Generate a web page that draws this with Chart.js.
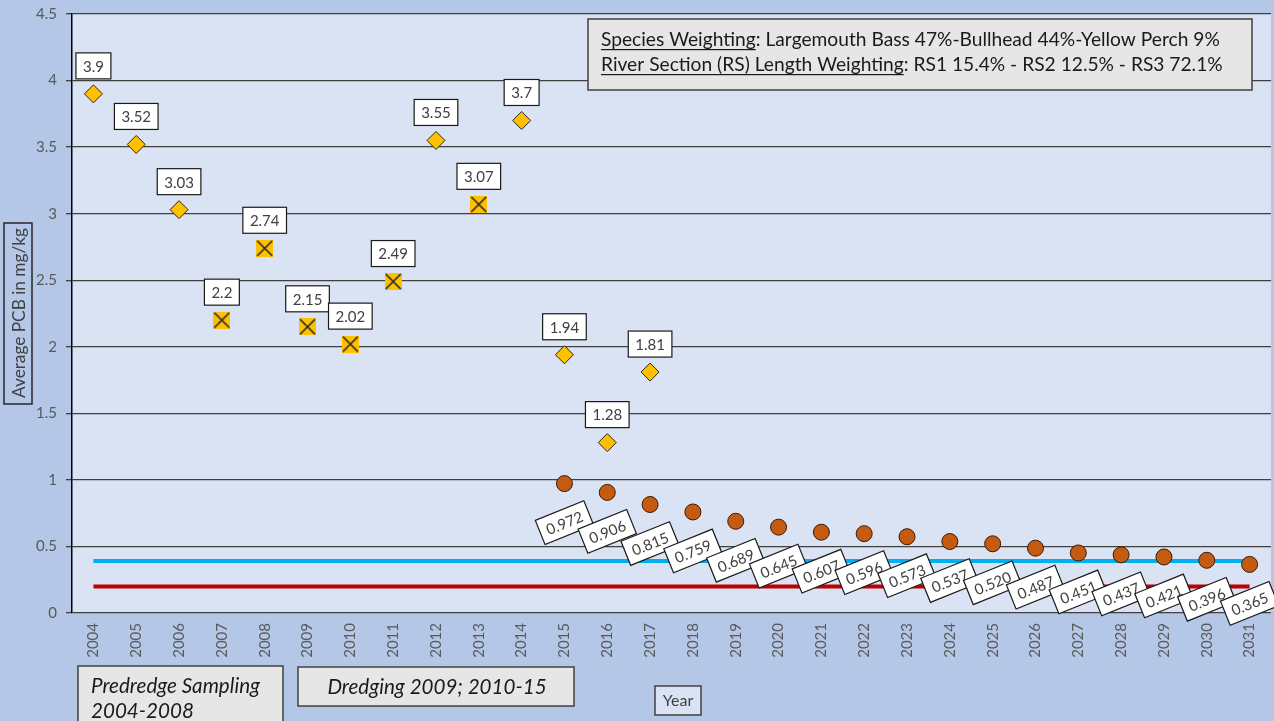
<!DOCTYPE html>
<html><head><meta charset="utf-8">
<script src="https://cdn.jsdelivr.net/npm/chart.js@4"></script>
<style>html,body{margin:0;padding:0;background:#b4c7e7;overflow:hidden}</style>
</head>
<body>
<canvas id="c" width="1274" height="721" style="display:block"></canvas>
<script>
// ---- data ----
const years = ['2004','2005','2006','2007','2008','2009','2010','2011','2012','2013','2014','2015','2016','2017',
  '2018','2019','2020','2021','2022','2023','2024','2025','2026','2027','2028','2029','2030','2031'];
const measuredYears = ['2004','2005','2006','2012','2014','2015','2016','2017'];
const measuredValues = [3.9, 3.52, 3.03, 3.55, 3.7, 1.94, 1.28, 1.81];
const dredgeYears = ['2007','2008','2009','2010','2011','2013'];
const dredgeValues = [2.2, 2.74, 2.15, 2.02, 2.49, 3.07];
const projYears = ['2015','2016','2017','2018','2019','2020','2021','2022','2023','2024','2025','2026','2027','2028','2029','2030','2031'];
const projValues = [0.972, 0.906, 0.815, 0.759, 0.689, 0.645, 0.607, 0.596, 0.573, 0.537, 0.520, 0.487, 0.451, 0.437, 0.421, 0.396, 0.365];
const refYears = ['2004','2031'];
const blueLevel = [0.39, 0.39];
const redLevel = [0.2, 0.2];
const yTicks = { min: 0, max: 4.5, step: 0.5 };

const pair = (xs, ys) => xs.map((x, i) => ({ x: x, y: ys[i] }));

// ---- styles ----
const FONT = 'Lato';
const GOLD = '#ffc000';
const RUST = '#c55a11';

// cross-in-square marker
const crossImg = document.createElement('canvas');
crossImg.width = 17; crossImg.height = 17;
(function () {
  const g = crossImg.getContext('2d');
  g.fillStyle = GOLD; g.fillRect(0, 0, 17, 17);
  g.strokeStyle = '#262626'; g.lineWidth = 1.6;
  g.beginPath(); g.moveTo(1, 1); g.lineTo(16, 16); g.moveTo(16, 1); g.lineTo(1, 16); g.stroke();
})();

const bgPlugin = {
  id: 'bg',
  beforeDraw(chart) {
    const { ctx, chartArea: a } = chart;
    ctx.save();
    ctx.fillStyle = '#b4c7e7';
    ctx.fillRect(0, 0, chart.width, chart.height);
    ctx.fillStyle = '#dae3f3';
    ctx.fillRect(a.left, a.top, a.right - a.left, a.bottom - a.top);
    ctx.restore();
  }
};

function labelBox(ctx, text, cx, cy, angle) {
  ctx.save();
  ctx.translate(cx, cy);
  ctx.rotate(angle);
  ctx.font = '15px ' + FONT;
  const w = ctx.measureText(text).width + 14;
  const h = 26;
  ctx.fillStyle = '#ffffff';
  ctx.fillRect(-w / 2, -h / 2, w, h);
  ctx.strokeStyle = '#1a1a1a';
  ctx.lineWidth = 1.2;
  ctx.strokeRect(-w / 2, -h / 2, w, h);
  ctx.fillStyle = '#404040';
  ctx.textAlign = 'center';
  ctx.textBaseline = 'middle';
  ctx.fillText(text, 0, 1);
  ctx.restore();
}

const labelPlugin = {
  id: 'labels',
  afterDatasetsDraw(chart) {
    const ctx = chart.ctx;
    const items = [];
    [0, 1].forEach(di => {
      const meta = chart.getDatasetMeta(di);
      const ds = chart.data.datasets[di];
      meta.data.forEach((el, i) => items.push({ x: el.x, y: el.y - 28, t: String(ds.data[i].y), a: 0 }));
    });
    items.sort((p, q) => p.x - q.x).forEach(it => labelBox(ctx, it.t, it.x, it.y, it.a));
    const meta = chart.getDatasetMeta(2);
    const ds = chart.data.datasets[2];
    meta.data.forEach((el, i) => labelBox(ctx, ds.data[i].y.toFixed(3), el.x, el.y + 39, -22 * Math.PI / 180));
  }
};

function fitFont(ctx, text, style, target) {
  ctx.font = style + ' 20px ' + FONT;
  const w = ctx.measureText(text).width;
  return 20 * target / w;
}

function richLine(ctx, parts, x, y, size) {
  ctx.font = size.toFixed(2) + 'px ' + FONT;
  ctx.textBaseline = 'alphabetic';
  ctx.textAlign = 'left';
  parts.forEach(p => {
    const w = ctx.measureText(p.t).width;
    ctx.fillText(p.t, x, y);
    if (p.u) { ctx.fillRect(x, y + 3, w, 1.2); }
    x += w;
  });
}

const annoPlugin = {
  id: 'anno',
  afterDraw(chart) {
    const ctx = chart.ctx;
    ctx.save();
    // weighting box
    ctx.fillStyle = '#e7e6e6';
    ctx.fillRect(588, 19, 664, 71);
    ctx.strokeStyle = '#404040'; ctx.lineWidth = 1.5;
    ctx.strokeRect(588, 19, 664, 71);
    const l1 = [{ t: 'Species Weighting', u: true }, { t: ': Largemouth Bass 47%-Bullhead 44%-Yellow Perch 9%' }];
    const l2 = [{ t: 'River Section (RS) Length Weighting', u: true }, { t: ': RS1 15.4% - RS2 12.5% - RS3 72.1%' }];
    const s1 = fitFont(ctx, l1.map(p => p.t).join(''), '', 619);
    ctx.fillStyle = '#1a1a1a';
    richLine(ctx, l1, 601, 46, s1);
    richLine(ctx, l2, 601, 71, s1);

    // y title box
    ctx.strokeStyle = '#262626'; ctx.lineWidth = 1.5;
    ctx.strokeRect(4, 223, 28, 181);
    ctx.save();
    ctx.translate(19, 313);
    ctx.rotate(-Math.PI / 2);
    const st = fitFont(ctx, 'Average PCB in mg/kg', '', 170);
    ctx.font = st.toFixed(2) + 'px ' + FONT;
    ctx.fillStyle = '#404040';
    ctx.textAlign = 'center'; ctx.textBaseline = 'middle';
    ctx.fillText('Average PCB in mg/kg', 0, 0);
    ctx.restore();

    // bottom boxes
    ctx.fillStyle = '#e7e6e6';
    ctx.fillRect(78, 666, 205, 60);
    ctx.strokeStyle = '#404040'; ctx.lineWidth = 1.5;
    ctx.strokeRect(78, 666, 205, 60);
    ctx.fillStyle = '#e7e6e6';
    ctx.fillRect(298, 667, 276, 39);
    ctx.strokeRect(298, 667, 276, 39);
    const si = fitFont(ctx, 'Predredge Sampling', 'italic', 169);
    ctx.font = 'italic ' + si.toFixed(2) + 'px ' + FONT;
    ctx.fillStyle = '#1a1a1a';
    ctx.textAlign = 'left'; ctx.textBaseline = 'middle';
    ctx.fillText('Predredge Sampling', 91, 686);
    ctx.fillText('2004-2008', 91, 711);
    ctx.textAlign = 'center';
    ctx.fillText('Dredging 2009; 2010-15', 437, 687);

    // Year box
    ctx.fillStyle = '#dae3f3';
    ctx.fillRect(655, 686, 46, 29);
    ctx.strokeStyle = '#404040';
    ctx.strokeRect(655, 686, 46, 29);
    ctx.font = '16px ' + FONT;
    ctx.fillStyle = '#404040';
    ctx.fillText('Year', 678, 701);
    ctx.restore();
  }
};

new Chart(document.getElementById('c'), {
  type: 'line',
  data: {
    labels: years,
    datasets: [
      { label: 'Measured', data: pair(measuredYears, measuredValues), showLine: false,
        pointStyle: 'rectRot', pointRadius: 9, pointBackgroundColor: GOLD, pointBorderColor: '#262626', pointBorderWidth: 1, order: 1 },
      { label: 'During dredging', data: pair(dredgeYears, dredgeValues), showLine: false,
        pointStyle: crossImg, pointRadius: 9, order: 1 },
      { label: 'Projected', data: pair(projYears, projValues), showLine: false,
        pointStyle: 'circle', pointRadius: 8, pointBackgroundColor: RUST, pointBorderColor: '#3a1a05', pointBorderWidth: 1, order: 1 },
      { label: 'Blue level', data: pair(refYears, blueLevel), borderColor: '#00b0f0', borderWidth: 4, pointRadius: 0, order: 5 },
      { label: 'Red level', data: pair(refYears, redLevel), borderColor: '#c00000', borderWidth: 4, pointRadius: 0, order: 5 }
    ]
  },
  options: {
    responsive: false,
    animation: false,
    events: [],
    layout: { autoPadding: false, padding: { top: 14, right: 3, left: 0, bottom: 0 } },
    plugins: { legend: { display: false }, tooltip: { enabled: false } },
    scales: {
      x: {
        type: 'category', offset: true,
        grid: { display: false, drawTicks: false },
        border: { display: false },
        ticks: { autoSkip: false, minRotation: 90, maxRotation: 90, padding: 10, color: '#595959', font: { family: FONT, size: 15 } },
        afterFit(s) { s.height = 108; s.paddingLeft = 0; s.paddingRight = 0; }
      },
      y: {
        min: yTicks.min, max: yTicks.max,
        ticks: { stepSize: yTicks.step, color: '#595959', font: { family: FONT, size: 15 }, padding: 9,
          callback: v => String(v) },
        grid: { color: '#404040', lineWidth: 1.3, tickLength: 6 },
        border: { color: '#000000', width: 1.5 },
        afterFit(s) { s.width = 72; s.paddingTop = 0; s.paddingBottom = 0; }
      }
    }
  },
  plugins: [bgPlugin, labelPlugin, annoPlugin]
});
</script>
</body></html>
